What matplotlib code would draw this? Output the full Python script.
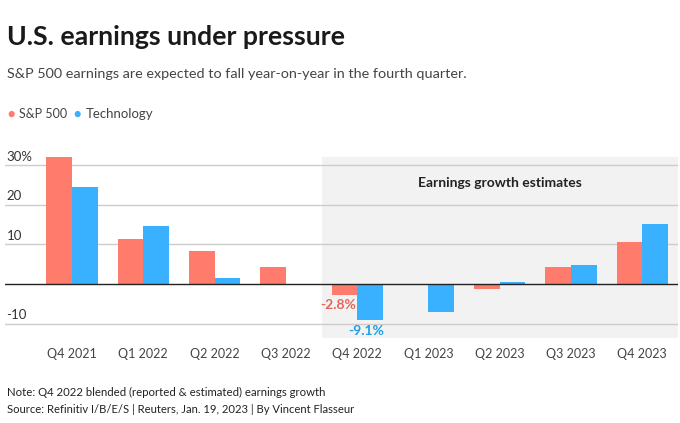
import numpy as np
import matplotlib.pyplot as plt
from matplotlib.patches import Rectangle

plt.rcParams['font.family'] = ['Lato', 'DejaVu Sans']

quarters = ["Q4 2021", "Q1 2022", "Q2 2022", "Q3 2022", "Q4 2022",
            "Q1 2023", "Q2 2023", "Q3 2023", "Q4 2023"]
sp500 = [32.1, 11.3, 8.4, 4.3, -2.8, 0.0, -1.2, 4.4, 10.5]
tech = [24.5, 14.6, 1.5, 0.0, -9.1, -7.0, 0.4, 4.8, 15.1]
yticks = [-10, 10, 20, 30]
ytick_labels = ["-10", "10", "20", "30%"]

red = "#FF7B6B"
blue = "#3AB1FF"

fig = plt.figure(figsize=(6.8, 4.23), dpi=100)
W, H = 680, 423

# axes box in pixel terms
left, right, top, bottom = 5, 678, 153, 338
ax = fig.add_axes([left / W, 1 - bottom / H, (right - left) / W, (bottom - top) / H])

x = np.arange(len(quarters))
bw = 0.36
ymin, ymax = -13.6, 33

# shaded estimates region
ax.add_patch(Rectangle((3.5, ymin), 10, 32.0 - ymin, color="#F2F2F2", zorder=0, lw=0))

for t in yticks:
    ax.axhline(t, color="#CCCCCC", lw=1, zorder=1)
ax.axhline(0, color="#222222", lw=1, zorder=3)

ax.bar(x - bw / 2, sp500, bw, color=red, zorder=2)
ax.bar(x + bw / 2, tech, bw, color=blue, zorder=2)

for t, lab in zip(yticks, ytick_labels):
    ax.text(-0.92, t + 0.6, lab, ha="left", va="bottom", fontsize=9.5, color="#333333")

ax.text(4 - bw / 2 - 0.08, -3.9, "-2.8%", ha="center", va="top", fontsize=10,
        fontweight="bold", color="#E5655A")
ax.text(4 + bw / 2 - 0.05, -10.2, "-9.1%", ha="center", va="top", fontsize=10,
        fontweight="bold", color="#1E9FE8")
ax.text(6.0, 25.4, "Earnings growth estimates", ha="center", va="center",
        fontsize=10, fontweight="bold", color="#222222")

ax.set_xlim(-0.94, 8.5)
ax.set_ylim(ymin, ymax)
ax.set_xticks(x)
ax.set_xticklabels(quarters, fontsize=9, color="#444444")
ax.tick_params(axis="x", length=0, pad=7.5)
ax.set_yticks([])
for s in ax.spines.values():
    s.set_visible(False)

fig.text(7 / W, 1 - 37 / H, "U.S. earnings under pressure", fontsize=19.2,
         fontweight="bold", color="#1A1A1A", va="center")
fig.text(7 / W, 1 - 74 / H, "S&P 500 earnings are expected to fall year-on-year in the fourth quarter.",
         fontsize=10.4, color="#444444", va="center")

fig.text(11 / W, 1 - 114 / H, "●", fontsize=9, color=red, va="center", ha="center")
fig.text(19 / W, 1 - 114 / H, "S&P 500", fontsize=9, color="#444444", va="center")
fig.text(77 / W, 1 - 114 / H, "●", fontsize=9, color=blue, va="center", ha="center")
fig.text(86 / W, 1 - 114 / H, "Technology", fontsize=9.5, color="#444444", va="center")

fig.text(7 / W, 1 - 392 / H, "Note: Q4 2022 blended (reported & estimated) earnings growth",
         fontsize=8.2, color="#222222", va="center")
fig.text(7 / W, 1 - 409 / H, "Source: Refinitiv I/B/E/S | Reuters, Jan. 19, 2023 | By Vincent Flasseur",
         fontsize=8.1, color="#222222", va="center")

fig.savefig("out.png", dpi=100)
